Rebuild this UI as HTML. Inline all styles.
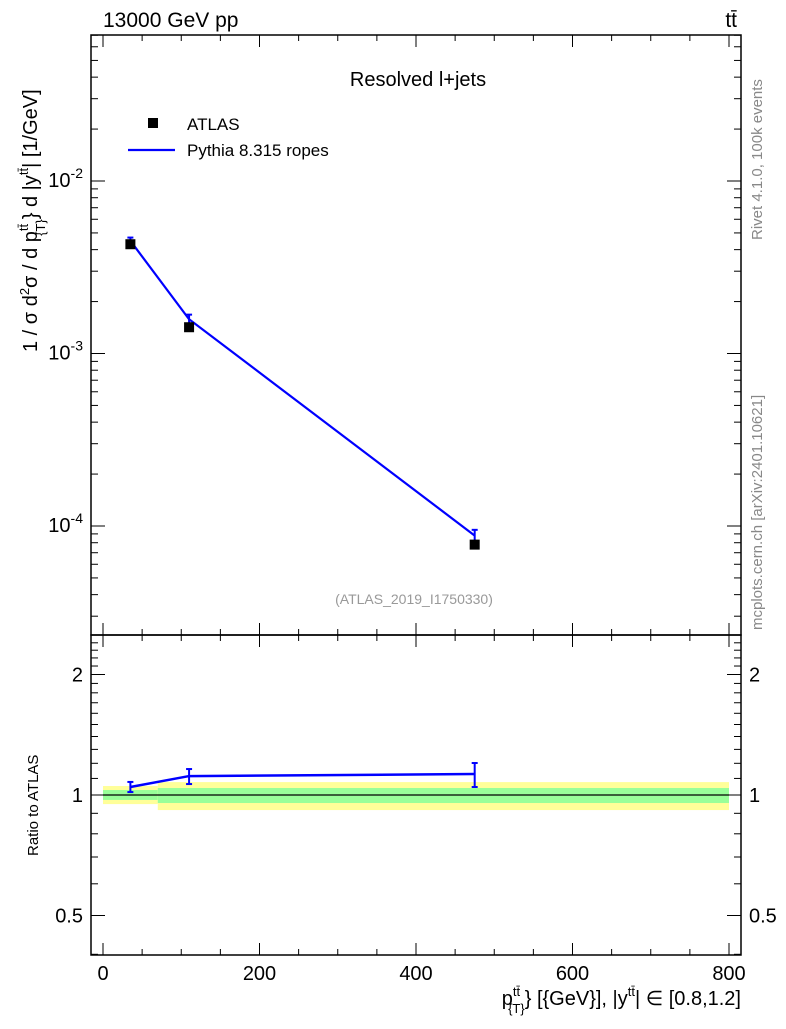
<!DOCTYPE html>
<html><head><meta charset="utf-8"><style>
body{margin:0;background:#fff}
svg{font-family:"Liberation Sans",sans-serif}
</style></head><body>
<svg id="c" width="786" height="1024" xmlns="http://www.w3.org/2000/svg">
<rect x="0" y="0" width="786" height="1024" fill="#fff"/>
<g id="g"></g>
</svg>
<script>
const xVals=[35,110,475];
const dataVals=[4.3e-3,1.42e-3,7.8e-5];
const mcVals=[4.5e-3,1.58e-3,8.8e-5];
const mcErrUp=[4.7e-3,1.68e-3,9.5e-5];
const mcErrDn=[4.3e-3,1.48e-3,8.1e-5];
const ratioVals=[1.047,1.115,1.128];
const ratioUp=[1.078,1.161,1.202];
const ratioDn=[1.017,1.065,1.047];
const binEdges=[0,70,800];
const yellowUp=[1.053,1.077];
const yellowDn=[0.949,0.917];
const greenUp=[1.029,1.041];
const greenDn=[0.972,0.955];
const xTicks=[0,200,400,600,800];
const ratioTicks=[0.5,1,2];

const NS="http://www.w3.org/2000/svg";
const g=document.getElementById('g');
const L=91,R=741,T=35,MB=635,RB=955;
const X=v=>103+v*(729-103)/800;
const Y=v=>181-(Math.log10(v)+2)*172.5;
const YR=v=>795-Math.log2(v)*120.5;
function el(t,a,txt){const e=document.createElementNS(NS,t);for(const k in a)e.setAttribute(k,a[k]);if(txt!==undefined)e.textContent=txt;g.appendChild(e);return e;}

for(let i=0;i<2;i++){
 const b=el('rect',{x:X(binEdges[i]),y:YR(yellowUp[i]),width:X(binEdges[i+1])-X(binEdges[i]),height:YR(yellowDn[i])-YR(yellowUp[i]),fill:'#ffff99'});
 
 
 const gg=el('rect',{x:X(binEdges[i]),y:YR(greenUp[i]),width:X(binEdges[i+1])-X(binEdges[i]),height:YR(greenDn[i])-YR(greenUp[i]),fill:'#99ff99'});
 
 
}
el('line',{x1:X(0),x2:X(800),y1:YR(1),y2:YR(1),stroke:'#000','stroke-width':1.3});

el('rect',{x:L,y:T,width:R-L,height:MB-T,fill:'none',stroke:'#000','stroke-width':1.5});
el('rect',{x:L,y:MB,width:R-L,height:RB-MB,fill:'none',stroke:'#000','stroke-width':1.5});

for(const t of xTicks){
 el('line',{x1:X(t),x2:X(t),y1:RB,y2:RB-12,stroke:'#000'});
 el('line',{x1:X(t),x2:X(t),y1:MB,y2:MB-12,stroke:'#000'});
 el('line',{x1:X(t),x2:X(t),y1:T,y2:T+12,stroke:'#000'});
 el('line',{x1:X(t),x2:X(t),y1:MB,y2:MB+12,stroke:'#000'});
 const tl=el('text',{x:X(t),y:RB+25,'text-anchor':'middle','font-size':20},String(t));
 
 
}
for(let t=-50;t<=850;t+=50){if(t%200===0||X(t)<L||X(t)>R)continue;
 el('line',{x1:X(t),x2:X(t),y1:RB,y2:RB-6,stroke:'#000'});
 el('line',{x1:X(t),x2:X(t),y1:MB,y2:MB-6,stroke:'#000'});
 el('line',{x1:X(t),x2:X(t),y1:T,y2:T+6,stroke:'#000'});
 el('line',{x1:X(t),x2:X(t),y1:MB,y2:MB+6,stroke:'#000'});}

for(let e=-5;e<=-1;e++)for(let m=1;m<10;m++){const v=m*Math.pow(10,e);const y=Y(v);if(y<T||y>MB)continue;
 const len=m===1?14:7;
 el('line',{x1:L,x2:L+len,y1:y,y2:y,stroke:'#000'});el('line',{x1:R,x2:R-len,y1:y,y2:y,stroke:'#000'});
 if(m===1){const t=el('text',{x:L-8,y:y+6,'text-anchor':'end','font-size':20});t.innerHTML='10<tspan dy="-9" font-size="14">'+e+'</tspan>';}}
for(let v=0.4;v<=2.5;v+=0.1){const y=YR(v);if(y<MB||y>RB)continue;
 el('line',{x1:L,x2:L+7,y1:y,y2:y,stroke:'#000'});el('line',{x1:R,x2:R-7,y1:y,y2:y,stroke:'#000'});}
for(const v of ratioTicks){const y=YR(v);
 el('line',{x1:L,x2:L+14,y1:y,y2:y,stroke:'#000'});el('line',{x1:R,x2:R-14,y1:y,y2:y,stroke:'#000'});
 el('text',{x:L-8,y:y+7,'text-anchor':'end','font-size':20},String(v));
 el('text',{x:R+8,y:y+7,'font-size':20},String(v));}

el('polyline',{points:xVals.map((x,i)=>X(x)+','+Y(mcVals[i])).join(' '),fill:'none',stroke:'#0000ff','stroke-width':2.2});
xVals.forEach((x,i)=>{el('line',{x1:X(x),x2:X(x),y1:Y(mcErrUp[i]),y2:Y(mcErrDn[i]),stroke:'#0000ff','stroke-width':2});
 el('line',{x1:X(x)-3,x2:X(x)+3,y1:Y(mcErrUp[i]),y2:Y(mcErrUp[i]),stroke:'#0000ff','stroke-width':2});
 el('line',{x1:X(x)-3,x2:X(x)+3,y1:Y(mcErrDn[i]),y2:Y(mcErrDn[i]),stroke:'#0000ff','stroke-width':2});});
xVals.forEach((x,i)=>{const r=el('rect',{x:X(x)-5,y:Y(dataVals[i])-5,width:10,height:10,fill:'#000'});
 
 });
el('polyline',{points:xVals.map((x,i)=>X(x)+','+YR(ratioVals[i])).join(' '),fill:'none',stroke:'#0000ff','stroke-width':2.5});
xVals.forEach((x,i)=>{el('line',{x1:X(x),x2:X(x),y1:YR(ratioUp[i]),y2:YR(ratioDn[i]),stroke:'#0000ff','stroke-width':2});
 el('line',{x1:X(x)-3,x2:X(x)+3,y1:YR(ratioUp[i]),y2:YR(ratioUp[i]),stroke:'#0000ff','stroke-width':2});
 el('line',{x1:X(x)-3,x2:X(x)+3,y1:YR(ratioDn[i]),y2:YR(ratioDn[i]),stroke:'#0000ff','stroke-width':2});});
</script>
<svg width="786" height="1024" style="position:absolute;left:0;top:0" xmlns="http://www.w3.org/2000/svg">
<text x="103" y="27" font-size="21" font-family="Liberation Sans">13000 GeV pp</text>
<text x="737" y="27" font-size="21" text-anchor="end" font-family="Liberation Sans">tt̄</text>
<text x="418" y="86" font-size="20" text-anchor="middle" font-family="Liberation Sans">Resolved l+jets</text>
<rect x="148" y="118" width="10" height="10" fill="#000"/>
<text x="187" y="130" font-size="17" font-family="Liberation Sans">ATLAS</text>
<line x1="128" x2="175" y1="150" y2="150" stroke="#00f" stroke-width="2.2"/>
<text x="187" y="156" font-size="17" font-family="Liberation Sans">Pythia 8.315 ropes</text>
<text x="414" y="604" font-size="14" fill="#999" text-anchor="middle" font-family="Liberation Sans">(ATLAS_2019_I1750330)</text>
<text transform="translate(37,352) rotate(-90)" font-size="20" font-family="Liberation Sans">1 / σ d<tspan dy="-8" font-size="13">2</tspan><tspan dy="8">σ / d p</tspan><tspan dy="-9" font-size="13">tt̄</tspan><tspan dx="-12" dy="17" font-size="13">{T}</tspan><tspan dy="-8">} d |y</tspan><tspan dy="-9" font-size="13">tt̄</tspan><tspan dy="9">| [1/GeV]</tspan></text>
<text transform="translate(38,856) rotate(-90)" font-size="15" font-family="Liberation Sans">Ratio to ATLAS</text>
<text x="741" y="1005" font-size="20" text-anchor="end" font-family="Liberation Sans">p<tspan dy="-9" font-size="13">tt̄</tspan><tspan dx="-12" dy="17" font-size="13">{T}</tspan><tspan dy="-8">} [{GeV}], |y</tspan><tspan dy="-9" font-size="13">tt̄</tspan><tspan dy="9">| ∈ [0.8,1.2]</tspan></text>
<text transform="translate(762,240) rotate(-90)" font-size="15" fill="#888" font-family="Liberation Sans">Rivet 4.1.0,  100k events</text>
<text transform="translate(762,630) rotate(-90)" font-size="15" fill="#888" font-family="Liberation Sans">mcplots.cern.ch [arXiv:2401.10621]</text>
</svg>
</body></html>
